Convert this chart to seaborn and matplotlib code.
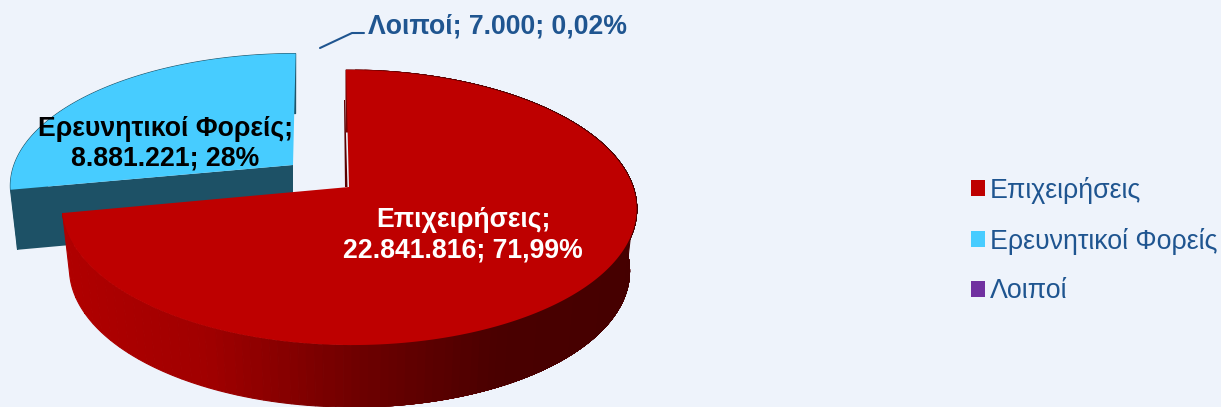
"""
Funding by beneficiary type: exploded 3D-style pie
"""
import numpy as np
import matplotlib
matplotlib.use("Agg")
import matplotlib.pyplot as plt
from matplotlib.patches import Patch
import seaborn as sns

# ─ Data ──────────────────────────────────────────────────────────── #
categories = ["Επιχειρήσεις", "Ερευνητικοί Φορείς", "Λοιποί"]
values = [22841816, 8881221, 7000]
value_labels = ["22.841.816", "8.881.221", "7.000"]
percent_labels = ["71,99%", "28%", "0,02%"]

# ─ Style ─────────────────────────────────────────────────────────── #
BG = "#EEF3FB"
RED = "#BE0000"
CYAN = "#47CCFF"
PURPLE = "#7030A0"
CYAN_SIDE = "#1D5166"
RED_CUT = "#5A0000"
NAVY = "#1F5590"
sns.set_theme(style="white")
plt.rcParams["font.family"] = ["Liberation Sans", "DejaVu Sans"]

PERSPECTIVE = 0.149
DEPTH = 62
BOTTOM_SCALE = 0.975
rim_colors = sns.blend_palette(["#B00000", "#A00000", "#700000", "#4A0000", "#450000"], 64)


def project(theta, cx, cy, rx, s, lean):
    """Clockwise angle from 12 o'clock -> pixel position on the tilted disc."""
    x = np.sin(np.radians(theta))
    y = np.cos(np.radians(theta))
    d = 1 + PERSPECTIVE * y
    return cx + rx * x / d + lean * y, cy - s * y / d


def draw_slice(ax, t0, t1, color, cx, cy, rx, s, lean=0.0, rim=None, cut=None, depth=DEPTH):
    theta = np.linspace(t0, t1, 361)
    xt, yt = project(theta, cx, cy, rx, s, lean)
    xb = cx + (xt - cx) * BOTTOM_SCALE
    yb = yt + depth

    # rim, built up from strips shaded by horizontal position
    if rim is not None:
        pos = np.clip((xt - 60) / 580, 0, 1)
        idx = (pos * (len(rim) - 1)).astype(int)
        for k in np.unique(idx):
            j = np.where(idx == k)[0]
            j = np.arange(j[0], min(j[-1] + 2, len(theta)))
            ax.fill(np.r_[xt[j], xb[j][::-1]], np.r_[yt[j], yb[j][::-1]],
                    color=rim[k], lw=0.8, zorder=2)
    # cut face on the starting edge
    if cut is not None:
        ax.fill([cx, xt[0], xb[0], cx], [cy, yt[0], yb[0], cy + depth],
                color=cut, lw=0, zorder=2)
    ax.fill(np.r_[cx, xt], np.r_[cy, yt], color=color, lw=0, zorder=3)


# ─ Figure ────────────────────────────────────────────────────────── #
fig = plt.figure(figsize=(12.21, 4.07), dpi=100, facecolor=BG)
ax = fig.add_axes([0, 0, 1, 1], facecolor=BG)
ax.set_xlim(0, 1221)
ax.set_ylim(407, 0)
ax.axis("off")

angles = np.r_[0, np.cumsum(values)] / np.sum(values) * 360

# back slice first, the big one sits in front of it
draw_slice(ax, angles[1], angles[2], CYAN, 293, 165, 279, 128, lean=3,
           rim=[CYAN_SIDE], cut=CYAN_SIDE, depth=60)

ax.fill([345, 347.5, 345, 344], [100, 187, 187, 100], color=RED_CUT, lw=0, zorder=2)
draw_slice(ax, angles[0], angles[1], RED, 349, 187, 284, 134.5, lean=-3, rim=rim_colors)

# data labels
ax.text(463, 235, f"{categories[0]};\n{value_labels[0]}; {percent_labels[0]}",
        color="white", fontsize=19.2, fontweight="bold", ha="center", va="center",
        linespacing=1.2, zorder=5)
ax.text(165, 144, f"{categories[1]};\n{value_labels[1]}; {percent_labels[1]}",
        color="black", fontsize=19.2, fontweight="bold", ha="center", va="center",
        linespacing=1.2, zorder=5)
ax.text(368, 26, f"{categories[2]}; {value_labels[2]}; {percent_labels[2]}",
        color=NAVY, fontsize=19.2, fontweight="bold", ha="left", va="center", zorder=5)
ax.plot([320, 352, 364], [48, 33, 33], color=NAVY, lw=1.5, zorder=4)

# legend
handles = [Patch(facecolor=c, edgecolor="none") for c in [RED, CYAN, PURPLE]]
ax.legend(handles, categories, loc="center left", bbox_to_anchor=(971 / 1221, 1 - 240.5 / 407),
          frameon=False, fontsize=19.3, labelcolor=NAVY, handlelength=0.52, handleheight=0.52,
          handletextpad=0.18, labelspacing=0.89, borderpad=0, borderaxespad=0)

fig.savefig("out.png", dpi=100, facecolor=BG)
plt.close()
